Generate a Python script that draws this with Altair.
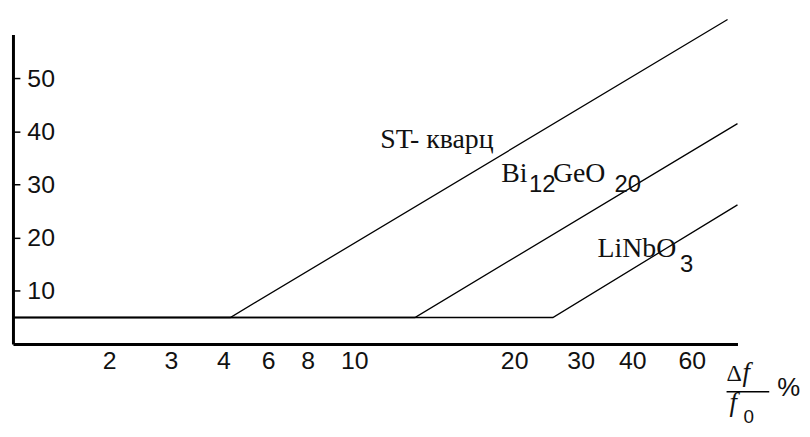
import altair as alt
import pandas as pd

# ---- data ----
# x axis: printed (irregular) scale; positions along the axis (axis units) and their labels
x_tick_pos = [97, 159, 212, 257, 297, 344, 505, 572, 624, 684]
x_tick_labels = ["2", "3", "4", "6", "8", "10", "20", "30", "40", "60"]
y_ticks = [10, 20, 30, 40, 50]

series = ["ST- кварц", "Bi12GeO20", "LiNbO3"]
x_start = [0, 0, 0]
x_break = [219, 405, 544]
x_end = [720, 730, 730]
y_flat = [5, 5, 5]
y_end = [61.1, 41.5, 26.2]

serif_text = ["ST- кварц", "Bi", "GeO", "LiNbO"]
serif_x = [370, 492, 544, 589]
serif_y = [37.0, 30.5, 30.5, 16.45]

sub_text = ["12", "20", "3"]
sub_x = [520, 606, 672]
sub_y = [28.6, 28.6, 13.6]

# axis title  Δf / f0 %
delta_text = ["Δ"]
delta_x = [719]
delta_y = [-6.9]
ital_text = ["f", "f"]
ital_x = [735, 722]
ital_y = [-6.9, -12.6]
sans_text = ["%", "0"]
sans_x = [770, 736]
sans_y = [-9.7, -14.8]
sans_size = [26, 19]
bar_x = [719]
bar_x2 = [762]
bar_y = [-8.97]

X_DOMAIN = [0, 730]
Y_DOMAIN = [0, 58.3]
W, H = 730, 312

SERIF = "Liberation Serif"
SANS = "Liberation Sans Narrow, Liberation Sans, Arial Narrow, sans-serif"

# ---- tables ----
rows = []
for i, s in enumerate(series):
    rows.append({"series": s, "k": 0, "x": x_start[i], "y": y_flat[i]})
    rows.append({"series": s, "k": 1, "x": x_break[i], "y": y_flat[i]})
    rows.append({"series": s, "k": 2, "x": x_end[i], "y": y_end[i]})
lines_df = pd.DataFrame(rows)

serif_df = pd.DataFrame({"t": serif_text, "x": serif_x, "y": serif_y})
sub_df = pd.DataFrame({"t": sub_text, "x": sub_x, "y": sub_y})
delta_df = pd.DataFrame({"t": delta_text, "x": delta_x, "y": delta_y})
ital_df = pd.DataFrame({"t": ital_text, "x": ital_x, "y": ital_y})
sans_df = pd.DataFrame({"t": sans_text, "x": sans_x, "y": sans_y, "s": sans_size})
bar_df = pd.DataFrame({"x": bar_x, "x2": bar_x2, "y": bar_y})

pos_list = "[" + ",".join(str(v) for v in x_tick_pos) + "]"
lab_list = "[" + ",".join("'" + v + "'" for v in x_tick_labels) + "]"

xscale = alt.Scale(domain=X_DOMAIN, nice=False, zero=False)
yscale = alt.Scale(domain=Y_DOMAIN, nice=False, zero=False)

x_axis = alt.Axis(
    values=x_tick_pos,
    labelExpr=f"{lab_list}[indexof({pos_list}, datum.value)]",
    title=None, grid=False, ticks=False, tickSize=0,
    domainWidth=3, domainColor="black",
    labelFont=SANS, labelFontSize=25, labelColor="#111",
    labelPadding=5, labelAlign="center", labelBaseline="top",
    labelFlush=False, labelOverlap=False,
)
y_axis = alt.Axis(
    orient="right", offset=-W,
    values=y_ticks, title=None, grid=False,
    tickSize=7, tickWidth=1.5, tickColor="black",
    domainWidth=3, domainColor="black",
    labelFont=SANS, labelFontSize=25, labelColor="#111",
    labelPadding=7, labelAlign="left", labelBaseline="middle",
    labelFlush=False, labelOverlap=False,
)

lines = alt.Chart(lines_df).mark_line(color="black", strokeWidth=1.3).encode(
    x=alt.X("x:Q", scale=xscale, axis=x_axis),
    y=alt.Y("y:Q", scale=yscale, axis=y_axis),
    detail="series:N",
    order="k:Q",
)

serif_lbl = alt.Chart(serif_df).mark_text(
    font=SERIF, fontSize=28, align="left", baseline="alphabetic", color="#111"
).encode(x=alt.X("x:Q", scale=xscale), y=alt.Y("y:Q", scale=yscale), text="t:N")

sub_lbl = alt.Chart(sub_df).mark_text(
    font=SANS, fontSize=24, align="left", baseline="alphabetic", color="#111"
).encode(x=alt.X("x:Q", scale=xscale), y=alt.Y("y:Q", scale=yscale), text="t:N")

delta_lbl = alt.Chart(delta_df).mark_text(
    font=SERIF, fontSize=24, align="left", baseline="alphabetic", color="#111"
).encode(x=alt.X("x:Q", scale=xscale), y=alt.Y("y:Q", scale=yscale), text="t:N")

ital_lbl = alt.Chart(ital_df).mark_text(
    font=SERIF, fontSize=27, fontStyle="italic", align="left", baseline="alphabetic", color="#111"
).encode(x=alt.X("x:Q", scale=xscale), y=alt.Y("y:Q", scale=yscale), text="t:N")

sans_lbl = alt.Chart(sans_df).mark_text(
    font=SANS, align="left", baseline="alphabetic", color="#111"
).encode(
    x=alt.X("x:Q", scale=xscale), y=alt.Y("y:Q", scale=yscale), text="t:N",
    size=alt.Size("s:Q", scale=None, legend=None),
)

bar = alt.Chart(bar_df).mark_rule(color="black", strokeWidth=1.5).encode(
    x=alt.X("x:Q", scale=xscale), x2="x2:Q", y=alt.Y("y:Q", scale=yscale)
)

chart = alt.layer(lines, serif_lbl, sub_lbl, delta_lbl, ital_lbl, sans_lbl, bar).properties(
    width=W, height=H,
    autosize=alt.AutoSizeParams(type="none"),
    padding={"left": 5, "top": 25, "right": 65, "bottom": 82},
    background="white",
).configure_view(stroke=None)

chart.save("out.html", embed_options={"renderer": "svg", "actions": False})
